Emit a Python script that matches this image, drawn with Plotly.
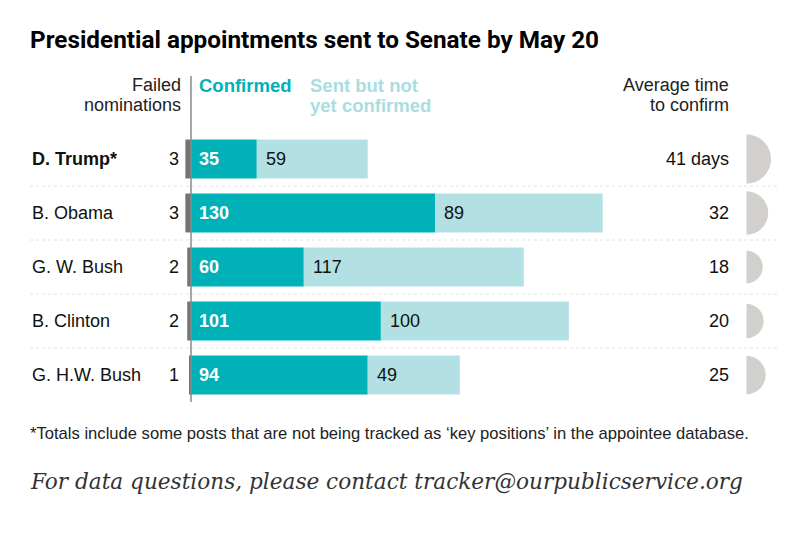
import plotly.graph_objects as go
import math

presidents = ["D. Trump*", "B. Obama", "G. W. Bush", "B. Clinton", "G. H.W. Bush"]
failed = [3, 3, 2, 2, 1]
confirmed = [35, 130, 60, 101, 94]
pending = [59, 89, 117, 100, 49]
avg_days = [41, 32, 18, 20, 25]
days_labels = ["41 days", "32", "18", "20", "25"]

TEAL = "#00b2b8"
LIGHT = "#b3e0e3"
GRAY_BAR = "#737373"
CIRCLE = "#d1d0cc"
FONT = "Liberation Sans"

OFF = 8  # page body margin
W, H = 797 - 2 * OFF, 540 - 2 * OFF
# plot area in page pixels
PL, PR, PT, PB = 30, 782, 65, 410
L, R, T, B = PL - OFF, W + OFF - PR, PT - OFF, H + OFF - PB

ppu = 1.88  # pixels per unit
x0px = 191  # page px of value 0
xmin = -(x0px - PL) / ppu
xmax = xmin + (PR - PL) / ppu

row0px, rowstep = 159, 54
ytop = -(row0px - PT) / rowstep
ybot = ytop + (PB - PT) / rowstep


def px_to_x(p):
    return (p - x0px) / ppu


def py_to_y(p):
    return (p - row0px) / rowstep


def px_paper(p):
    return (p - PL) / (PR - PL)


def py_paper(p):
    return 1 - (p - PT) / (PB - PT)


ys = list(range(len(presidents)))
fig = go.Figure()
fig.add_bar(y=ys, x=[-f for f in failed], orientation="h", marker_color=GRAY_BAR,
            width=0.72, hoverinfo="skip", marker_line_width=0)
fig.add_bar(y=ys, x=confirmed, orientation="h", marker_color=TEAL, width=0.72,
            hoverinfo="skip", marker_line_width=0)
fig.add_bar(y=ys, x=pending, base=confirmed, orientation="h", marker_color=LIGHT,
            width=0.72, hoverinfo="skip", marker_line_width=0)

FS = 18
ann = []
shapes = []
for i, name in enumerate(presidents):
    bold = i == 0
    ann.append(dict(x=px_to_x(30), y=i, xref="x", yref="y",
                    text=f"<b>{name}</b>" if bold else name, showarrow=False,
                    xanchor="left", font=dict(size=FS, color="#111", family=FONT)))
    ann.append(dict(x=px_to_x(181), y=i, xref="x", yref="y", text=str(failed[i]),
                    showarrow=False, xanchor="right", font=dict(size=FS, color="#111", family=FONT)))
    ann.append(dict(x=0, y=i, xref="x", yref="y", text=f"<b>{confirmed[i]}</b>",
                    showarrow=False, xanchor="left", xshift=6,
                    font=dict(size=FS, color="white", family=FONT)))
    ann.append(dict(x=confirmed[i], y=i, xref="x", yref="y", text=str(pending[i]),
                    showarrow=False, xanchor="left", xshift=7,
                    font=dict(size=FS, color="#111", family=FONT)))
    ann.append(dict(x=px_to_x(731), y=i, xref="x", yref="y", text=days_labels[i],
                    showarrow=False, xanchor="right", font=dict(size=FS, color="#111", family=FONT)))
    r = 24.5 * math.sqrt(avg_days[i] / max(avg_days))
    pts = [(r * math.sin(math.pi * k / 40), r * math.cos(math.pi * k / 40)) for k in range(41)]
    path = "M " + " L ".join(f"{px:.2f},{py:.2f}" for px, py in pts) + " Z"
    shapes.append(dict(type="path", xref="x", yref="y", xsizemode="pixel", ysizemode="pixel",
                       xanchor=px_to_x(746.5), yanchor=i, path=path,
                       fillcolor=CIRCLE, line=dict(width=0)))
    if i < len(presidents) - 1:
        shapes.append(dict(type="line", xref="x", yref="y", x0=px_to_x(30), x1=px_to_x(780),
                           y0=i + 0.5, y1=i + 0.5,
                           line=dict(color="#e2e2e2", width=1, dash="dot"), layer="below"))

shapes.append(dict(type="line", xref="x", yref="y", x0=0, x1=0,
                   y0=py_to_y(76), y1=py_to_y(402), line=dict(color="#8a8a8a", width=1.5)))

headers = [
    (183, "right", ["Failed", "nominations"], FS, "#222", False),
    (197, "left", ["Confirmed"], 18.5, TEAL, True),
    (308, "left", ["Sent but not", "yet confirmed"], 18.5, "#a9dde0", True),
    (731, "right", ["Average time", "to confirm"], FS, "#222", False),
]
for xp, anchor, lines, size, color, bold in headers:
    for j, line in enumerate(lines):
        ann.append(dict(x=px_to_x(xp), y=py_to_y(85 + 20 * j), xref="x", yref="y",
                        text=f"<b>{line}</b>" if bold else line, showarrow=False,
                        xanchor=anchor, yanchor="middle",
                        font=dict(size=size, color=color, family=FONT)))

ann += [
    dict(x=px_paper(28), y=py_paper(40), xref="paper", yref="paper", yanchor="middle",
         text="<b>Presidential appointments sent to Senate by May 20</b>", showarrow=False,
         xanchor="left", font=dict(size=24.3, color="#000", family="Roboto")),
    dict(x=px_paper(28), y=py_paper(433), xref="paper", yref="paper", yanchor="middle",
         text="*Totals include some posts that are not being tracked as \u2018key positions\u2019 in the appointee database.",
         showarrow=False, xanchor="left", font=dict(size=16.6, color="#222", family=FONT)),
    dict(x=px_paper(28), y=py_paper(481), xref="paper", yref="paper", yanchor="middle",
         text="<i>For data questions, please contact tracker@ourpublicservice.org</i>",
         showarrow=False, xanchor="left", font=dict(size=21.6, color="#333", family="DejaVu Serif")),
]

fig.update_layout(
    width=W, height=H, barmode="overlay", showlegend=False,
    plot_bgcolor="white", paper_bgcolor="white",
    margin=dict(l=L, r=R, t=T, b=B),
    xaxis=dict(range=[xmin, xmax], visible=False, fixedrange=True),
    yaxis=dict(range=[ybot, ytop], visible=False, fixedrange=True),
    annotations=ann, shapes=shapes,
)
fig.write_html("out.html")
